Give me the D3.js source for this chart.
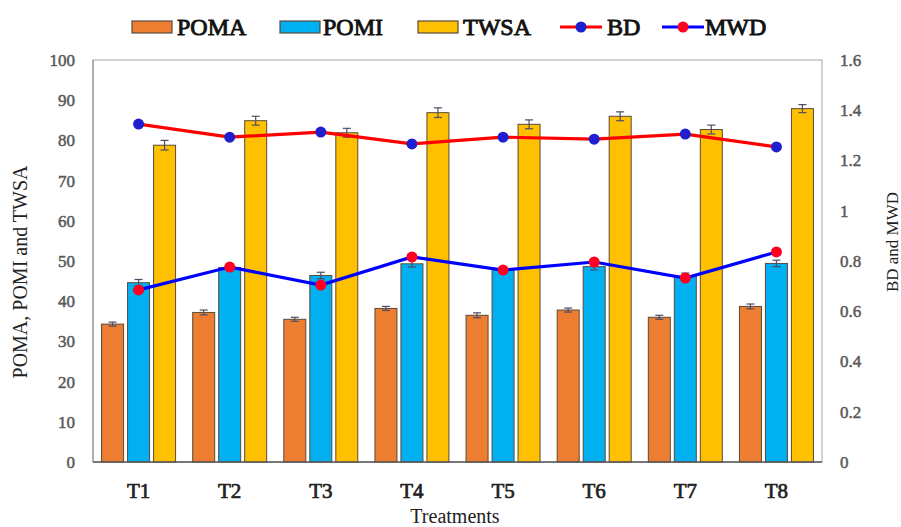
<!DOCTYPE html>
<html><head><meta charset="utf-8">
<script src="https://cdn.jsdelivr.net/npm/d3@7"></script>
<style>body{margin:0;background:#fff}svg{display:block}
.ser{font-family:"Liberation Serif","Times New Roman",serif !important;}</style>
</head><body>
<svg id="c" width="901" height="527"></svg>
<script>
const categories = ["T1","T2","T3","T4","T5","T6","T7","T8"];
const poma = [34.3, 37.2, 35.5, 38.2, 36.5, 37.8, 36.0, 38.7];
const pomi = [44.6, 48.4, 46.4, 49.3, 47.8, 48.6, 46.2, 49.4];
const twsa = [78.8, 84.9, 81.9, 86.9, 84.0, 86.0, 82.7, 87.9];
const pomaErr = [0.5, 0.6, 0.5, 0.5, 0.6, 0.5, 0.5, 0.6];
const pomiErr = [0.8, 0.8, 0.8, 0.8, 0.8, 0.8, 0.8, 0.8];
const twsaErr = [1.2, 1.1, 1.1, 1.2, 1.1, 1.1, 1.1, 1.0];
const bd  = [1.345, 1.293, 1.313, 1.266, 1.293, 1.285, 1.305, 1.254];
const mwd = [0.685, 0.776, 0.704, 0.816, 0.764, 0.796, 0.732, 0.836];
const leftTicks = [0,10,20,30,40,50,60,70,80,90,100];
const rightTicks = [0,0.2,0.4,0.6,0.8,1,1.2,1.4,1.6];

const svg = d3.select("#c");
const L = 93, R = 822, T = 60, B = 462;
const font = "'Liberation Serif','Times New Roman',serif";
function fauxBold(sel, color, w) {
  sel.classed("ser", true).attr("font-family", font).style("font-family", font).attr("font-weight", "normal")
    .attr("fill", color).attr("stroke", color).attr("stroke-width", w)
    .attr("paint-order", "stroke").attr("stroke-linejoin", "round");
}

const x = d3.scaleBand().domain(categories).range([L, R]);
const yL = d3.scaleLinear().domain([0,100]).range([B, T]);
const yR = d3.scaleLinear().domain([0,1.6]).range([B, T]);

svg.append("rect").attr("x", L).attr("y", T).attr("width", R-L).attr("height", B-T)
  .attr("fill","none").attr("stroke","#a6a6a6").attr("stroke-width",1);

const barW = 22, off = 26;
const series = [
  {name:"POMA", vals:poma, err:pomaErr, color:"#ED7D31", dx:-off},
  {name:"POMI", vals:pomi, err:pomiErr, color:"#00B0F0", dx:0},
  {name:"TWSA", vals:twsa, err:twsaErr, color:"#FFC000", dx:off}
];
series.forEach(s => {
  const g = svg.append("g");
  g.selectAll("rect").data(categories).join("rect")
    .attr("x", (c) => x(c) + x.bandwidth()/2 + s.dx - barW/2)
    .attr("y", (c,i) => yL(s.vals[i]))
    .attr("width", barW)
    .attr("height", (c,i) => B - yL(s.vals[i]))
    .attr("fill", s.color).attr("stroke", "#5a4a3a").attr("stroke-width", 1);
  const eg = svg.append("g").attr("stroke","#4d4d66").attr("stroke-width",1.2);
  categories.forEach((c,i) => {
    const cx = x(c) + x.bandwidth()/2 + s.dx;
    const y1 = yL(s.vals[i]+s.err[i]), y2 = yL(s.vals[i]-s.err[i]);
    eg.append("line").attr("x1",cx).attr("x2",cx).attr("y1",y1).attr("y2",y2);
    eg.append("line").attr("x1",cx-4).attr("x2",cx+4).attr("y1",y1).attr("y2",y1);
    eg.append("line").attr("x1",cx-4).attr("x2",cx+4).attr("y1",y2).attr("y2",y2);
  });
});

svg.append("line").attr("x1",L).attr("x2",R).attr("y1",B).attr("y2",B).attr("stroke","#595959").attr("stroke-width",1.5);

const cxOf = c => x(c) + x.bandwidth()/2;
const lines = [
  {vals:bd, line:"#FF0000", marker:"#1F1FD0"},
  {vals:mwd, line:"#0000FF", marker:"#FF0022"}
];
lines.forEach(l => {
  const gen = d3.line().x((d,i)=>cxOf(categories[i])).y(d=>yR(d));
  svg.append("path").attr("d", gen(l.vals)).attr("fill","none").attr("stroke",l.line).attr("stroke-width",3.2);
  svg.append("g").selectAll("circle").data(l.vals).join("circle")
    .attr("cx",(d,i)=>cxOf(categories[i])).attr("cy",d=>yR(d)).attr("r",5.5)
    .attr("fill",l.marker);
});

const axL = svg.append("g").attr("transform",`translate(${L},0)`)
  .call(d3.axisLeft(yL).tickValues(leftTicks).tickSize(0).tickPadding(18));
const axR = svg.append("g").attr("transform",`translate(${R},0)`)
  .call(d3.axisRight(yR).tickValues(rightTicks).tickSize(0).tickPadding(18).tickFormat(d3.format("~g")));
const axB = svg.append("g").attr("transform",`translate(0,${B})`)
  .call(d3.axisBottom(x).tickSize(0).tickPadding(21));
[axL, axR, axB].forEach(a => { a.select(".domain").remove(); a.attr("font-family", font); });
axL.selectAll("text").attr("font-size",17).call(fauxBold, "#595959", 0.5);
axR.selectAll("text").attr("font-size",17).call(fauxBold, "#595959", 0.5);
axB.selectAll("text").attr("font-size",21).call(fauxBold, "#222", 0.7);
svg.append("line").attr("x1",L).attr("x2",L).attr("y1",T).attr("y2",B).attr("stroke","#8c8c8c").attr("stroke-width",1);

svg.append("text").attr("class","ser").attr("transform","translate(27,272) rotate(-90)").attr("text-anchor","middle")
  .attr("font-family",font).attr("font-size",20).attr("fill","#222").text("POMA, POMI and TWSA");
svg.append("text").attr("class","ser").attr("transform","translate(898,242) rotate(-90)").attr("text-anchor","middle")
  .attr("font-family",font).attr("font-size",17).attr("fill","#222").text("BD and MWD");
svg.append("text").attr("class","ser").attr("x",455).attr("y",523).attr("text-anchor","middle")
  .attr("font-family",font).attr("font-size",20).attr("fill","#222").text("Treatments");

const lg = svg.append("g").attr("font-size",24);
const legItems = [
  {t:"POMA", x:132, tx:177, type:"rect", color:"#ED7D31"},
  {t:"POMI", x:280, tx:323, type:"rect", color:"#00B0F0"},
  {t:"TWSA", x:418, tx:463, type:"rect", color:"#FFC000"},
  {t:"BD", x:560, tx:607, type:"line", line:"#FF0000", marker:"#1F1FD0"},
  {t:"MWD", x:662, tx:705, type:"line", line:"#0000FF", marker:"#FF0022"}
];
legItems.forEach(it => {
  if (it.type === "rect") {
    lg.append("rect").attr("x",it.x).attr("y",21).attr("width",40).attr("height",12)
      .attr("fill",it.color).attr("stroke","#5a4a3a").attr("stroke-width",1.2);
  } else {
    lg.append("line").attr("x1",it.x).attr("x2",it.x+42).attr("y1",27).attr("y2",27).attr("stroke",it.line).attr("stroke-width",3);
    lg.append("circle").attr("cx",it.x+21).attr("cy",27).attr("r",5.5).attr("fill",it.marker);
  }
  lg.append("text").attr("x",it.tx).attr("y",35).text(it.t).call(fauxBold, "#111", 0.9);
});
</script>
</body></html>
